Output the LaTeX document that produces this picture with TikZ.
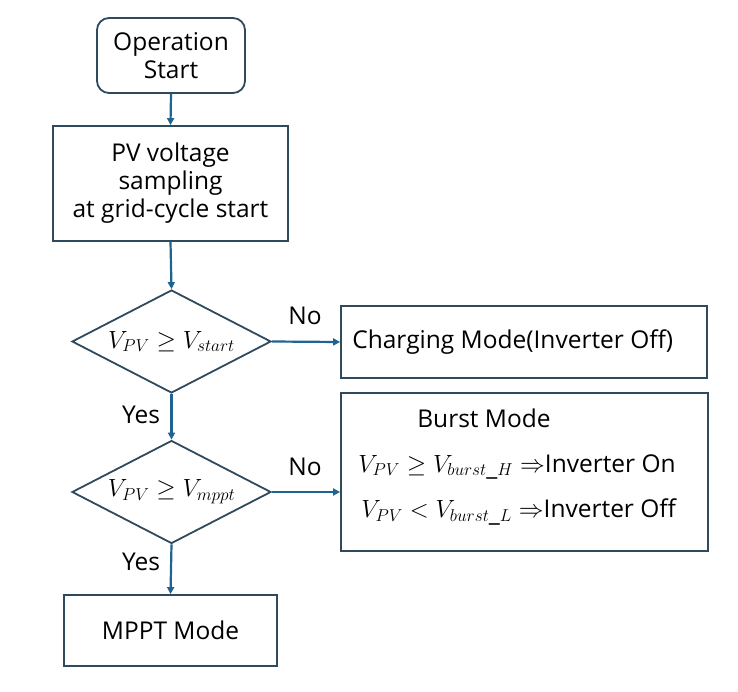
\documentclass[tikz,border=0pt]{standalone}
\usepackage{fontspec}
\setmainfont{Open Sans}
\usetikzlibrary{shapes.geometric,arrows.meta}
\definecolor{edge}{HTML}{2E4A5C}
\definecolor{conn}{HTML}{1F6390}
\tikzset{
  box/.style={draw=edge, line width=1.8pt, minimum width=#1, align=center, inner sep=0pt},
  dec/.style={draw=edge, line width=1.8pt, diamond, aspect=1.93, minimum width=199pt, minimum height=103pt, inner sep=0pt},
  conn/.style={draw=conn, line width=2.2pt, -{Triangle[length=7pt,width=7pt]}},
}
\begin{document}
\begin{tikzpicture}[x=1pt,y=-1pt]
\useasboundingbox (0,0) rectangle (738,692);
\fontsize{24.5}{30}\selectfont
\node[box=148pt, minimum height=75pt, rounded corners=12pt] (start) at (171,55.5) {Operation\\[-2pt]Start};
\node[box=235pt, minimum height=115pt] (pv) at (170.5,183.5) {PV voltage\\[-2pt]sampling\\[-2pt]at grid-cycle start};
\node[dec] (d1) at (171.5,341.5) {$V_{PV}\geq V_{start}$};
\node[dec] (d2) at (171.5,492) {$V_{PV}\geq V_{mppt}$};
\node[box=366pt, minimum height=72pt] (chg) at (524,342) {};
\node[anchor=west] (chgt) at (344,342) {Charging Mode(Inverter Off)};
\node[box=367pt, minimum height=158pt] (burst) at (524.5,472) {};
\node (bt) at (484,418) {Burst Mode};
\node[anchor=west] (b1) at (350,467) {$V_{PV}\geq V_{burst\_H}\Rightarrow$Inverter On};
\node[anchor=west] (b2) at (353,512) {$V_{PV}< V_{burst\_L}\Rightarrow$Inverter Off};
\node[box=213pt, minimum height=71pt] (mppt) at (170.5,630.5) {MPPT Mode};
\draw[conn] (start.south) -- (pv.north);
\draw[conn] (pv.south) -- (d1.north);
\draw[conn] (d1.east) -- (chg.west);
\draw[conn] (d1.south) -- (d2.north);
\draw[conn] (d2.east) -- (d2.east -| burst.west);
\draw[conn] (d2.south) -- (mppt.north);
\node (no1) at (305,316) {No};
\node (yes1) at (141,415) {Yes};
\node (no2) at (305,467) {No};
\node (yes2) at (141,562) {Yes};
\end{tikzpicture}
\end{document}
